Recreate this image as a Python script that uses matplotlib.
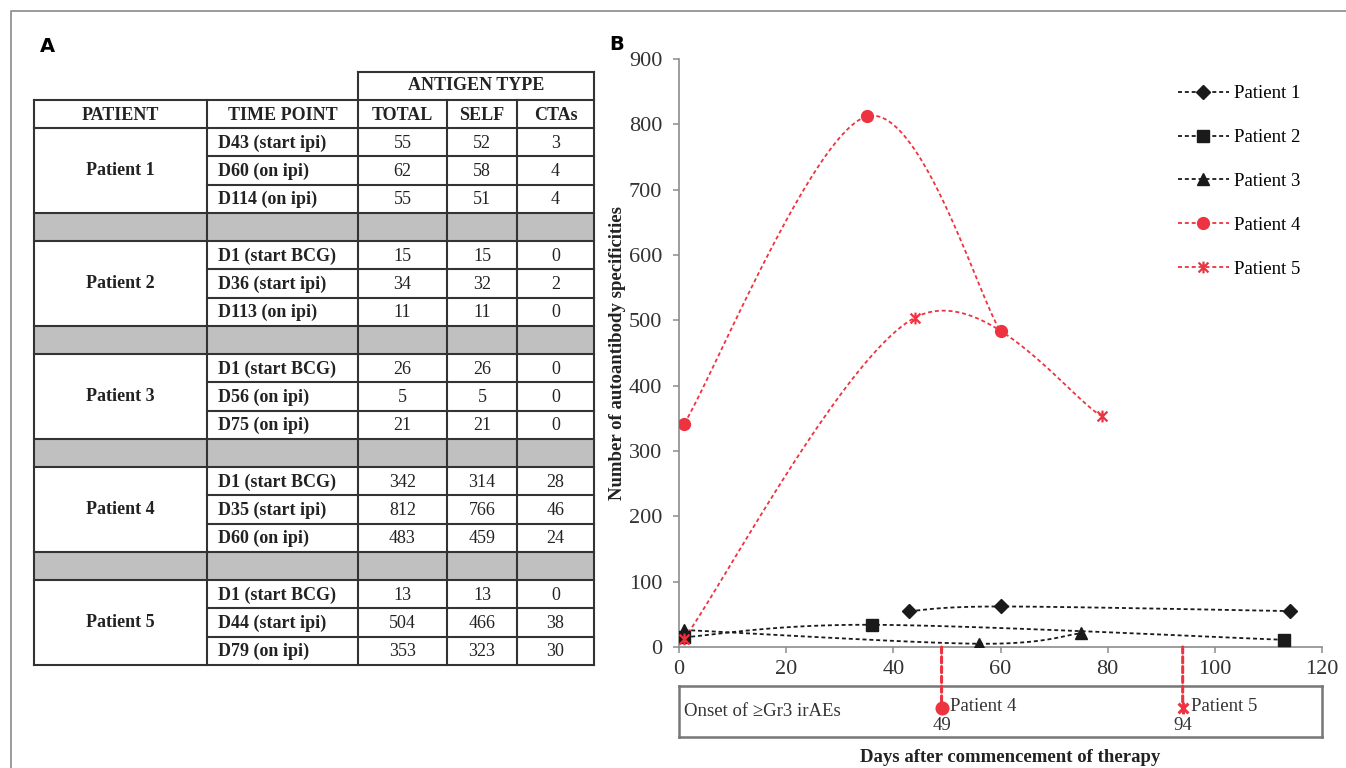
import numpy as np
import matplotlib.pyplot as plt
from matplotlib.path import Path
from matplotlib.lines import Line2D
from matplotlib.patches import Rectangle, ConnectionPatch

# ---- data ----
patients = ['Patient 1', 'Patient 2', 'Patient 3', 'Patient 4', 'Patient 5']
time_points = [['D43 (start ipi)', 'D60 (on ipi)', 'D114 (on ipi)'],
               ['D1 (start BCG)', 'D36 (start ipi)', 'D113 (on ipi)'],
               ['D1 (start BCG)', 'D56 (on ipi)', 'D75 (on ipi)'],
               ['D1 (start BCG)', 'D35 (start ipi)', 'D60 (on ipi)'],
               ['D1 (start BCG)', 'D44 (start ipi)', 'D79 (on ipi)']]
days = [[43, 60, 114], [1, 36, 113], [1, 56, 75], [1, 35, 60], [1, 44, 79]]
total = [[55, 62, 55], [15, 34, 11], [26, 5, 21], [342, 812, 483], [13, 504, 353]]
self_ag = [[52, 58, 51], [15, 32, 11], [26, 5, 21], [314, 766, 459], [13, 466, 323]]
ctas = [[3, 4, 4], [0, 2, 0], [0, 0, 0], [28, 46, 24], [0, 38, 30]]
onset_days = [49, 94]
onset_patients = ['Patient 4', 'Patient 5']
onset_idx = [3, 4]

W, H = 1346, 768
SERIF = 'Liberation Serif'
BLACK = '#1a1a1a'
RED = '#ee3340'

# excel-style star marker (x plus vertical bar)
star = Path([(-1, -1), (1, 1), (-1, 1), (1, -1), (0, -1.2), (0, 1.2)],
            [Path.MOVETO, Path.LINETO, Path.MOVETO, Path.LINETO, Path.MOVETO, Path.LINETO])
styles = [dict(color=BLACK, marker='D', ms=7.2),
          dict(color=BLACK, marker='s', ms=8),
          dict(color=BLACK, marker='^', ms=8.5),
          dict(color=RED, marker='o', ms=8.5),
          dict(color=RED, marker=star, ms=8.5, mew=1.6)]


def smooth(x, y, n=60):
    # bezier smoothing like spreadsheet "smoothed line"
    p = np.column_stack([x, y]).astype(float)
    ext = np.vstack([p[0], p, p[-1]])
    t = np.linspace(0, 1, n)[1:, None]
    out = [p[:1]]
    for i in range(len(p) - 1):
        p0, p3 = ext[i + 1], ext[i + 2]
        c1 = p0 + (ext[i + 2] - ext[i]) / 6
        c2 = p3 - (ext[i + 3] - ext[i + 1]) / 6
        out.append((1 - t)**3 * p0 + 3 * (1 - t)**2 * t * c1 + 3 * (1 - t) * t**2 * c2 + t**3 * p3)
    return np.vstack(out)


def fx(px):
    return px / W


def fy(py):
    return 1 - py / H


fig = plt.figure(figsize=(W / 100, H / 100), dpi=100)

# ---- overlay (frame + table) in pixel coords ----
ov = fig.add_axes([0, 0, 1, 1])
ov.set_xlim(0, W)
ov.set_ylim(H, 0)
ov.axis('off')
ov.plot([11, 11, W], [H, 11, 11], color='#8a8a8a', lw=1.2)
ov.text(47, 47, 'A', fontsize=14, fontweight='bold', family='DejaVu Sans', ha='center', va='center')
ov.text(617, 45, 'B', fontsize=14, fontweight='bold', family='DejaVu Sans', ha='center', va='center')

cols = [34, 207, 358, 447, 517, 594]
y_top, y_head, y_data = 72, 100, 128
rh = 28.26
n_rows = len(patients) * 4 - 1
y_bot = y_data + n_rows * rh
lc, lw = '#333333', 1.5
tc = '#222222'

# gray separator rows
for i in range(len(patients) - 1):
    ys = y_data + (i * 4 + 3) * rh
    ov.add_patch(Rectangle((cols[0], ys), cols[-1] - cols[0], rh, facecolor='#c0c0c0', edgecolor='none'))

# vertical lines
for j, xc in enumerate(cols):
    top = y_top if j in (2, 5) else y_head
    ov.plot([xc, xc], [top, y_bot], color=lc, lw=lw)
ov.plot([cols[2], cols[-1]], [y_top, y_top], color=lc, lw=lw)
ov.plot([cols[0], cols[-1]], [y_head, y_head], color=lc, lw=lw)
for k in range(n_rows + 1):
    yk = y_data + k * rh
    inner = (k % 4) in (1, 2)
    ov.plot([cols[1] if inner else cols[0], cols[-1]], [yk, yk], color=lc, lw=lw)

tkw = dict(family=SERIF, fontsize=13, color=tc, va='center')
ov.text((cols[2] + cols[-1]) / 2, (y_top + y_head) / 2, 'ANTIGEN TYPE', ha='center', fontweight='bold', **tkw)
for j, h in enumerate(['PATIENT', 'TIME POINT', 'TOTAL', 'SELF', 'CTAs']):
    ov.text((cols[j] + cols[j + 1]) / 2, (y_head + y_data) / 2 + 1, h, ha='center', fontweight='bold', **tkw)
for i, name in enumerate(patients):
    r0 = y_data + i * 4 * rh
    ov.text((cols[0] + cols[1]) / 2, r0 + 1.5 * rh, name, ha='center', fontweight='bold', **tkw)
    for r in range(3):
        yc = r0 + (r + 0.5) * rh + 1
        ov.text(cols[1] + 11, yc, time_points[i][r], ha='left', fontweight='bold', **tkw)
        for j, vals in enumerate([total, self_ag, ctas]):
            ov.text((cols[j + 2] + cols[j + 3]) / 2, yc, str(vals[i][r]), ha='center', **tkw)

# ---- chart ----
ax = fig.add_axes([fx(679), fy(647), fx(1322 - 679), (647 - 59) / H])
ax.patch.set_alpha(0)
for i, name in enumerate(patients):
    st = styles[i]
    c = smooth(days[i], total[i])
    ax.plot(c[:, 0], c[:, 1], color=st['color'], lw=1.3, ls=(0, (2.2, 1.6)), zorder=2)
    ax.plot(days[i], total[i], ls='none', marker=st['marker'], ms=st['ms'], color=st['color'],
            mec=st['color'], mew=st.get('mew', 1), zorder=3)
ax.set_xlim(0, 120)
ax.set_ylim(0, 900)
ax.set_xticks(range(0, 121, 20))
ax.set_yticks(range(0, 901, 100))
for s in ['top', 'right']:
    ax.spines[s].set_visible(False)
for s in ['left', 'bottom']:
    ax.spines[s].set_color('#8c8c8c')
    ax.spines[s].set_linewidth(1.2)
ax.tick_params(direction='out', length=4, width=1.1, color='#8c8c8c', labelcolor='#333333', labelsize=16)
ax.tick_params(axis='y', pad=8)
ax.tick_params(axis='x', pad=5)
for lab in ax.get_xticklabels() + ax.get_yticklabels():
    lab.set_family(SERIF)

handles = [Line2D([], [], color=s['color'], lw=1.3, ls=(0, (2.2, 1.6)), marker=s['marker'], ms=s['ms'],
                  mec=s['color'], mew=s.get('mew', 1)) for s in styles]
fig.legend(handles, patients, loc='upper left', bbox_to_anchor=(fx(1178), fy(85)), frameon=False,
           borderpad=0, borderaxespad=0, handlelength=2.7, handletextpad=0.3, labelspacing=1.43,
           numpoints=1, prop=dict(family=SERIF, size=13.5))

fig.text(fx(617), fy(353), 'Number of autoantibody specificities', rotation=90, ha='center', va='center',
         family=SERIF, fontweight='bold', fontsize=13.5, color='#222222')
fig.text(fx(1010), fy(757), 'Days after commencement of therapy', ha='center', va='center',
         family=SERIF, fontweight='bold', fontsize=13.5, color='#222222')

# ---- onset box ----
bx = fig.add_axes([fx(679), fy(737), fx(1322 - 679), 51 / H])
bx.patch.set_alpha(0)
bx.set_xlim(0, 120)
bx.set_ylim(0, 1)
bx.set_xticks([])
bx.set_yticks([])
for s in bx.spines.values():
    s.set_color('#777777')
    s.set_linewidth(1.8)
bx.text(0.008, 0.5, 'Onset of \u2265Gr3 irAEs', transform=bx.transAxes, family=SERIF, fontsize=13.5,
        color='#333333', va='center', ha='left')
for d, name, k in zip(onset_days, onset_patients, onset_idx):
    st = styles[k]
    con = ConnectionPatch(xyA=(d, 0), coordsA=ax.transData, xyB=(d, 0.57), coordsB=bx.transData,
                          color=RED, lw=2.2, ls=(0, (2, 1.2)))
    fig.add_artist(con)
    bx.plot([d], [0.57], marker=st['marker'], ms=st['ms'], color=RED, mec=RED,
            mew=st.get('mew', 1) + 0.6, ls='none', clip_on=False, zorder=4)
    bx.text(d + 1.6, 0.6, name, family=SERIF, fontsize=13.5, color='#333333', va='center', ha='left')
    bx.text(d, 0.22, str(d), family=SERIF, fontsize=13.5, color='#333333', va='center', ha='center')

fig.savefig('out.png', dpi=100, facecolor='white')
